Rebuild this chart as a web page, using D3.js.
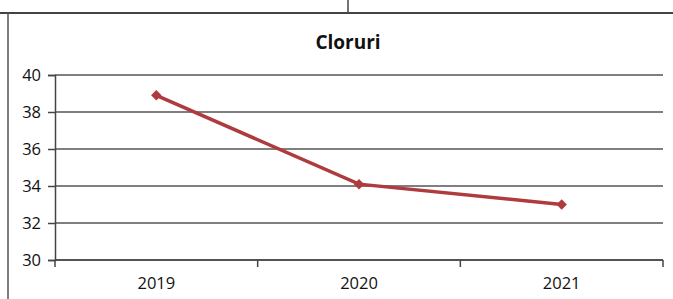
<!DOCTYPE html>
<html>
<head>
<meta charset="utf-8">
<script src="https://cdn.jsdelivr.net/npm/d3@7"></script>
<style>
  body { margin: 0; background: #fff; }
  text { font-family: "Open Sans", "Liberation Sans", sans-serif; fill: #111; }
</style>
</head>
<body>
<div id="chart"></div>
<script>
var years = ["2019", "2020", "2021"];
var values = [38.9, 34.1, 33.0];
var yTicks = [30, 32, 34, 36, 38, 40];
var title = "Cloruri";

var W = 673, H = 299;
var margin = {top: 75, right: 10, bottom: 39, left: 55};
var width = 663 - margin.left;
var height = 260 - margin.top;

var svg = d3.select("#chart").append("svg")
  .attr("width", W).attr("height", H);

// outer frame pieces (scanned page)
svg.append("line").attr("x1", 0).attr("x2", W).attr("y1", 13).attr("y2", 13)
  .attr("stroke", "#444").attr("stroke-width", 2);
svg.append("line").attr("x1", 348).attr("x2", 348).attr("y1", 0).attr("y2", 13)
  .attr("stroke", "#444").attr("stroke-width", 1.5);
svg.append("line").attr("x1", 8).attr("x2", 8).attr("y1", 13).attr("y2", H)
  .attr("stroke", "#555").attr("stroke-width", 1.5);

var g = svg.append("g")
  .attr("transform", "translate(" + margin.left + "," + margin.top + ")");

var x = d3.scaleBand().domain(years).range([0, width]);
var y = d3.scaleLinear().domain([30, 40]).range([height, 0]);

// gridlines
g.selectAll(".grid").data(yTicks).enter().append("line")
  .attr("x1", 0).attr("x2", width)
  .attr("y1", function(d) { return y(d); })
  .attr("y2", function(d) { return y(d); })
  .attr("stroke", "#555").attr("stroke-width", 1.5);

// y axis
var yAxis = g.append("g")
  .call(d3.axisLeft(y).tickValues(yTicks).tickSize(7).tickPadding(7).tickFormat(d3.format("d")));
yAxis.select(".domain").attr("stroke", "#444").attr("stroke-width", 1.5);
yAxis.selectAll(".tick line").attr("stroke", "#444").attr("stroke-width", 1.5);
yAxis.selectAll("text").style("font-size", "16.5px");

// x axis with ticks between categories
var xAxis = g.append("g").attr("transform", "translate(0," + height + ")");
xAxis.append("line").attr("x1", 0).attr("x2", width).attr("y1", 0).attr("y2", 0)
  .attr("stroke", "#444").attr("stroke-width", 1.5);
var bounds = years.map(function(d) { return x(d); }).concat([width]);
xAxis.selectAll(".xt").data(bounds).enter().append("line")
  .attr("x1", function(d) { return d; }).attr("x2", function(d) { return d; })
  .attr("y1", 0).attr("y2", 7)
  .attr("stroke", "#444").attr("stroke-width", 1.5);
xAxis.selectAll(".xl").data(years).enter().append("text")
  .attr("x", function(d) { return x(d) + x.bandwidth() / 2; })
  .attr("y", 29)
  .attr("text-anchor", "middle")
  .style("font-size", "16.5px")
  .text(function(d) { return d; });

// line
var pts = years.map(function(d, i) { return {year: d, value: values[i]}; });
g.append("path").datum(pts)
  .attr("fill", "none")
  .attr("stroke", "#B03B3E")
  .attr("stroke-width", 3.5)
  .attr("d", d3.line()
    .x(function(d) { return x(d.year) + x.bandwidth() / 2; })
    .y(function(d) { return y(d.value); }));

g.selectAll(".pt").data(pts).enter().append("path")
  .attr("d", d3.symbol().type(d3.symbolSquare).size(55))
  .attr("transform", function(d) {
    return "translate(" + (x(d.year) + x.bandwidth() / 2) + "," + y(d.value) + ") rotate(45)";
  })
  .attr("fill", "#B03B3E");

svg.append("text")
  .attr("x", 348).attr("y", 49)
  .attr("text-anchor", "middle")
  .style("font-size", "19px").style("font-weight", "bold")
  .text(title);
</script>
</body>
</html>
